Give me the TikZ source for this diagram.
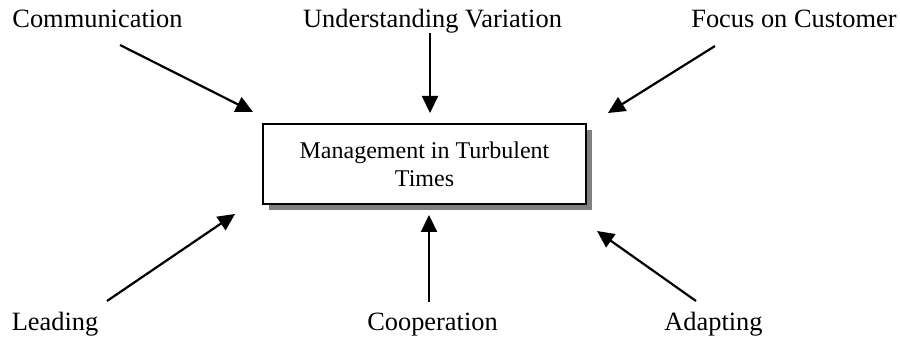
\documentclass[tikz,border=0pt]{standalone}
\usepackage{fontspec}
\setmainfont{Liberation Serif}
\usetikzlibrary{arrows.meta,shadows}
\begin{document}
\begin{tikzpicture}[x=0.5pt,y=-0.5pt,
  lbl/.style={anchor=base,inner sep=0pt,font=\fontsize{13.2}{15}\selectfont},
  mainbox/.style={draw=black,line width=0.7pt,fill=white,minimum width=161.5pt,minimum height=40pt,
    align=center,inner sep=0pt,font=\fontsize{12}{14}\selectfont,
    drop shadow={shadow xshift=3pt,shadow yshift=-3pt,fill=black!50,opacity=1}},
  arr/.style={line width=1.1pt,-{Triangle[length=8.5pt,width=8pt]}}]
\useasboundingbox (0,0) rectangle (900,341);
\node[mainbox] (box) at (424.5,164) {Management in Turbulent\\Times};
\node[lbl] (comm) at (97.5,28) {Communication};
\node[lbl] (uv) at (432.5,28) {Understanding Variation};
\node[lbl] (foc) at (794,28) {Focus on Customer};
\node[lbl] (lead) at (55,331) {Leading};
\node[lbl] (coop) at (432.5,331) {Cooperation};
\node[lbl] (adap) at (713.5,331) {Adapting};
\coordinate (c1) at (120,45);  \coordinate (c2) at (253,112);
\coordinate (u1) at (430,33);  \coordinate (u2) at (430,113);
\coordinate (f1) at (715,46);  \coordinate (f2) at (608,113);
\coordinate (l1) at (107,301); \coordinate (l2) at (235,214);
\coordinate (o1) at (429,302); \coordinate (o2) at (429,215);
\coordinate (a1) at (696,301); \coordinate (a2) at (597,231);
\draw[arr] (c1) -- (c2);
\draw[arr] (u1) -- (u2);
\draw[arr] (f1) -- (f2);
\draw[arr] (l1) -- (l2);
\draw[arr] (o1) -- (o2);
\draw[arr] (a1) -- (a2);
\end{tikzpicture}
\end{document}
